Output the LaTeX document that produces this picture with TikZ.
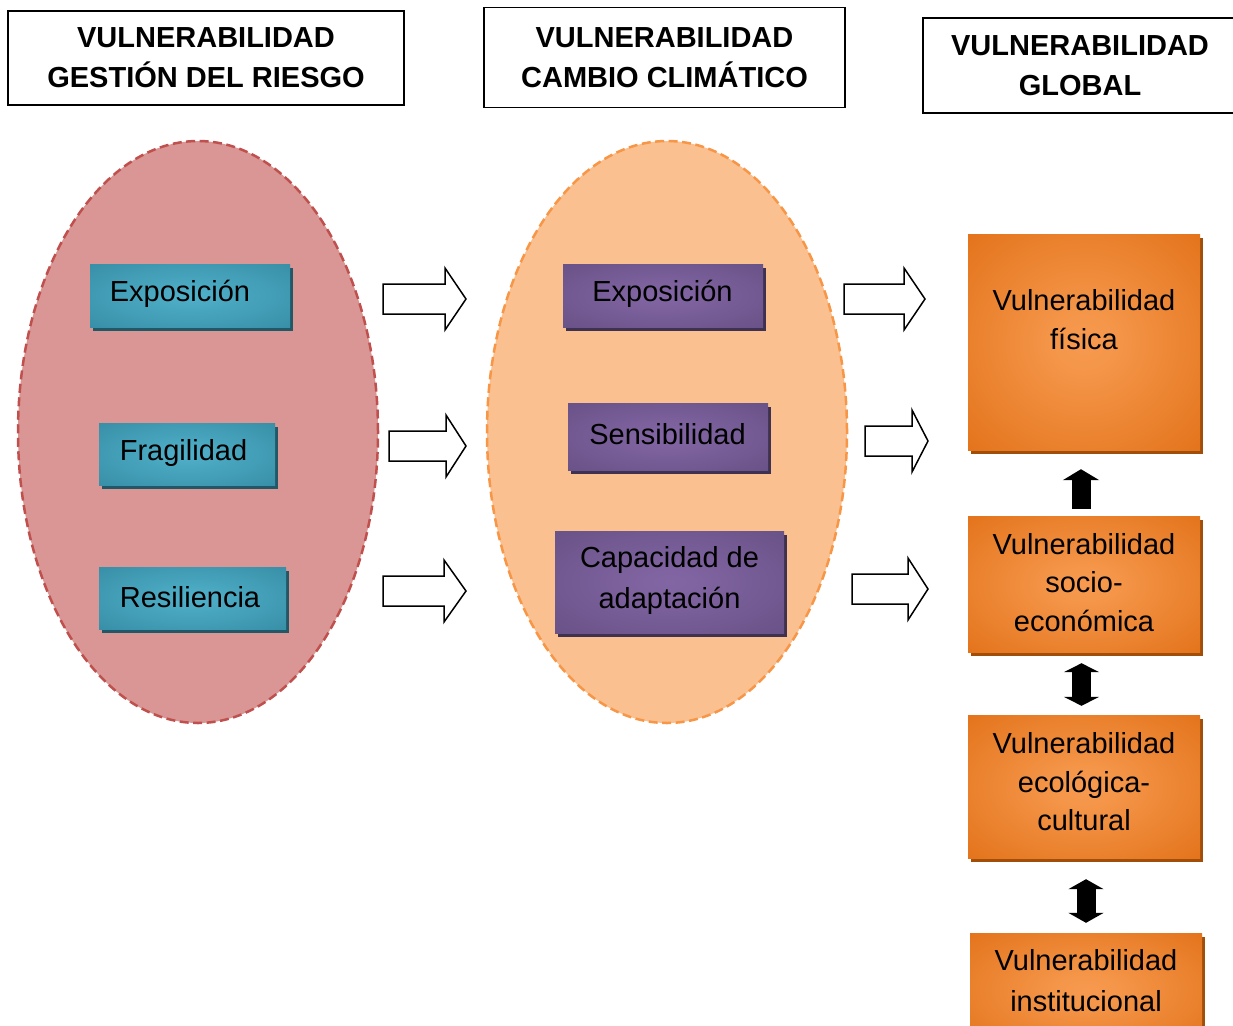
\documentclass[tikz,border=0pt]{standalone}
\usepackage{fontspec}
\setmainfont{Liberation Sans}
\usetikzlibrary{shapes.geometric,arrows.meta,shadows,calc}
\definecolor{ellpink}{RGB}{217,150,148}
\definecolor{ellred}{RGB}{192,80,77}
\definecolor{ellpeach}{RGB}{250,192,144}
\definecolor{ellorange}{RGB}{247,150,70}
\definecolor{tealshadow}{RGB}{33,88,103}
\definecolor{purpshadow}{RGB}{63,49,81}
\definecolor{orashadow}{RGB}{160,78,10}
\pgfdeclareradialshading{tealglow}{\pgfpoint{0bp}{0bp}}{rgb(0bp)=(0.31,0.69,0.79); rgb(6bp)=(0.30,0.67,0.77); rgb(50bp)=(0.18,0.51,0.60); rgb(72bp)=(0.18,0.51,0.60)}
\pgfdeclareradialshading{purpglow}{\pgfpoint{0bp}{0bp}}{rgb(0bp)=(0.51,0.40,0.64); rgb(6bp)=(0.50,0.39,0.63); rgb(50bp)=(0.37,0.29,0.48); rgb(72bp)=(0.37,0.29,0.48)}
\pgfdeclareradialshading{oraglow}{\pgfpoint{0bp}{0bp}}{rgb(0bp)=(0.97,0.60,0.31); rgb(6bp)=(0.96,0.59,0.29); rgb(45bp)=(0.87,0.41,0.05); rgb(72bp)=(0.87,0.41,0.05)}
\newcommand\blockarr[4]{\draw[whitearrow] (#1,#4-15) -- (#2,#4-15) -- (#2,#4-31) -- (#3,#4) -- (#2,#4+31) -- (#2,#4+15) -- (#1,#4+15) -- cycle;}
\begin{document}
\begin{tikzpicture}[x=1pt,y=-1pt,
  hbox/.style={rectangle, draw=black, line width=1.5pt, fill=white, inner sep=0pt, align=center,
     font=\bfseries\fontsize{29}{40}\selectfont},
  txt/.style={inner sep=0pt, align=center, font=\fontsize{29}{38.5}\selectfont},
  ell1/.style={ellipse, draw=ellred, fill=ellpink, line width=2.5pt, dash pattern=on 9pt off 4.5pt,
     minimum width=360pt, minimum height=582pt, inner sep=0pt},
  ell2/.style={ellipse, draw=ellorange, fill=ellpeach, line width=2.5pt, dash pattern=on 9pt off 4.5pt,
     minimum width=360pt, minimum height=582pt, inner sep=0pt},
  tealbox/.style={rectangle, inner sep=0pt, shading=tealglow,
     drop shadow={shadow xshift=3pt, shadow yshift=-4pt, opacity=1, fill=tealshadow}},
  purpbox/.style={rectangle, inner sep=0pt, shading=purpglow,
     drop shadow={shadow xshift=3pt, shadow yshift=-4pt, opacity=1, fill=purpshadow}},
  orabox/.style={rectangle, inner sep=0pt, shading=oraglow, minimum width=232pt,
     drop shadow={shadow xshift=3pt, shadow yshift=-4pt, opacity=1, fill=orashadow}},
  whitearrow/.style={draw=black, fill=white, line width=1.5pt, line join=miter},
  blk/.style={line width=19pt, black},
]
\useasboundingbox (0,0) rectangle (1233,1025);
\clip (0,0) rectangle (1233,1025);

% headers
\node[hbox, minimum width=396pt, minimum height=94pt] (h1) at (206,58) {VULNERABILIDAD\\GESTIÓN DEL RIESGO};
\node[hbox, minimum width=361pt, minimum height=100pt] (h2) at (664.5,57.5) {VULNERABILIDAD\\CAMBIO CLIMÁTICO};
\node[hbox, minimum width=314pt, minimum height=95pt] (h3) at (1080,65.5) {VULNERABILIDAD\\GLOBAL};

% ellipses
\node[ell1] (e1) at (198,432) {};
\node[ell2] (e2) at (667,432) {};

% teal boxes
\node[tealbox, minimum width=200pt, minimum height=63pt] (g1) at (190,295.5) {};
\node[tealbox, minimum width=176pt, minimum height=62pt] (g2) at (187,454) {};
\node[tealbox, minimum width=187pt, minimum height=62pt] (g3) at (192.5,598) {};
\node[txt] (tg1) at (180,294) {Exposición};
\node[txt] (tg2) at (183.5,453) {Fragilidad};
\node[txt] (tg3) at (190,597) {Resiliencia};

% purple boxes
\node[purpbox, minimum width=200pt, minimum height=63pt] (c1) at (663,295.5) {};
\node[purpbox, minimum width=200pt, minimum height=67pt] (c2) at (668,436.5) {};
\node[purpbox, minimum width=229pt, minimum height=102pt] (c3) at (669.5,582) {};
\node[txt] (tc1) at (662.5,294) {Exposición};
\node[txt] (tc2) at (667.5,434) {Sensibilidad};
\node[txt, font=\fontsize{29}{41}\selectfont] (tc3) at (669.5,580.5) {Capacidad de\\adaptación};

% orange boxes
\node[orabox, minimum height=216pt] (o1) at (1084,342) {};
\node[orabox, minimum height=136pt] (o2) at (1084,584) {};
\node[orabox, minimum height=143pt] (o3) at (1084,786.5) {};
\node[orabox, minimum height=114pt] (o4) at (1086,990) {};
\node[txt] (to1) at (1084,319.5) {Vulnerabilidad\\física};
\node[txt] (to2) at (1084,582.5) {Vulnerabilidad\\socio-\\económica};
\node[txt] (to3) at (1084,782) {Vulnerabilidad\\ecológica-\\cultural};
\node[txt, font=\fontsize{29}{40.5}\selectfont] (to4) at (1086,980.5) {Vulnerabilidad\\institucional};

% white block arrows
\blockarr{383}{445}{466}{299}
\blockarr{389}{446}{466}{446}
\blockarr{383}{444}{466}{591}
\blockarr{844}{904}{925}{299}
\blockarr{865}{912}{928}{441}
\blockarr{852}{908}{928}{589}

% black arrows between orange boxes
\draw[blk, -{Triangle[length=11pt, width=36pt]}] ($(o2.north)+(-3,-7)$) -- ($(o1.south)+(-3,19)$);
\draw[blk, {Triangle[length=9pt, width=35pt]}-{Triangle[length=9pt, width=35pt]}] ($(o2.south)+(-2.5,11)$) -- ($(o3.north)+(-2.5,-9)$);
\draw[blk, {Triangle[length=10pt, width=35pt]}-{Triangle[length=10pt, width=35pt]}] ($(o3.south)+(2,21)$) -- ($(o4.north)+(0,-10)$);
\end{tikzpicture}
\end{document}
